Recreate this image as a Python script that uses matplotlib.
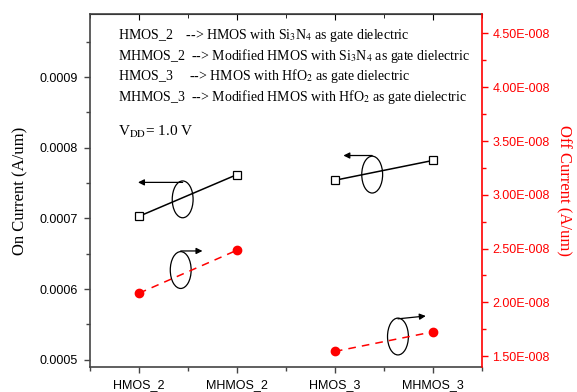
import matplotlib
matplotlib.use('Agg')
import matplotlib.pyplot as plt
from matplotlib.patches import Ellipse
from matplotlib.ticker import MultipleLocator, FuncFormatter

plt.rcParams['font.family'] = 'Liberation Serif'
plt.rcParams['mathtext.fontset'] = 'stix'

devices = ['HMOS_2', 'MHMOS_2', 'HMOS_3', 'MHMOS_3']
x_pos = [1, 2, 3, 4]
on_current = [0.000703, 0.000762, 0.000754, 0.000782]
off_current = [2.085e-8, 2.485e-8, 1.544e-8, 1.726e-8]

notes = [
    r'HMOS_2    --> HMOS with Si$_3$N$_4$ as gate dielectric',
    r'MHMOS_2  --> Modified HMOS with Si$_3$N$_4$ as gate dielectric',
    r'HMOS_3     --> HMOS with HfO$_2$ as gate dielectric',
    r'MHMOS_3  --> Modified HMOS with HfO$_2$ as gate dielectric',
]

fig = plt.figure(figsize=(5.77, 3.92), dpi=100)
ax = fig.add_axes([0.156, 0.064, 0.679, 0.900])
ax2 = ax.twinx()

# on current, one segment per gate dielectric
for i in (0, 2):
    ax.plot(x_pos[i:i + 2], on_current[i:i + 2], color='black', lw=1.1,
            marker='s', ms=5.5, mfc='white', mec='black', mew=0.9, zorder=3)
    ax2.plot(x_pos[i:i + 2], off_current[i:i + 2], color='red', lw=1.1, ls=(0, (5, 4)),
             marker='o', ms=6, mfc='red', mec='red', zorder=3)

ax.set_xlim(0.5, 4.5)
ax.set_ylim(0.00049, 0.000989)
ax2.set_ylim(1.40e-8, 4.68e-8)

ax.set_xticks(x_pos)
ax.set_xticklabels(devices, family='Liberation Sans', fontsize=9)
ax.xaxis.set_minor_locator(MultipleLocator(0.5))
ax.yaxis.set_major_locator(MultipleLocator(0.0001))
ax.yaxis.set_minor_locator(MultipleLocator(0.00005))
ax.yaxis.set_major_formatter(FuncFormatter(lambda v, p: f'{v:.4f}'))
for lab in ax.get_yticklabels():
    lab.set_family('Liberation Sans')
    lab.set_fontsize(9)
ax.tick_params(axis='both', which='major', length=4, width=1, direction='out', color='#444', pad=5)
ax.tick_params(axis='both', which='minor', length=3, width=1, direction='out', color='#444')

top = ax.secondary_xaxis('top')
top.set_xticks(x_pos)
top.set_xticklabels([])
top.xaxis.set_minor_locator(MultipleLocator(0.5))
top.tick_params(which='major', direction='in', length=4)
top.tick_params(which='minor', direction='in', length=3)

ax2.yaxis.set_major_locator(MultipleLocator(0.5e-8))
ax2.yaxis.set_minor_locator(MultipleLocator(0.25e-8))
ax2.yaxis.set_major_formatter(FuncFormatter(lambda v, p: f'{v / 1e-8:.2f}E-008'))
ax2.tick_params(axis='y', which='major', length=4, width=1, colors='red', labelsize=9)
ax2.tick_params(axis='y', which='minor', length=3, width=1, colors='red')
for lab in ax2.get_yticklabels():
    lab.set_family('Liberation Sans')

for s in ('left', 'bottom', 'top'):
    ax.spines[s].set_color('#444')
    ax.spines[s].set_linewidth(1.2)
ax2.spines['right'].set_color('red')
ax2.spines['right'].set_linewidth(1.2)
ax2.spines['left'].set_visible(False)
ax2.spines['top'].set_visible(False)
ax2.spines['bottom'].set_visible(False)
ax.spines['right'].set_visible(False)

ax.set_ylabel('On Current (A/um)', fontsize=12, labelpad=8)
ax2.set_ylabel('Off Current (A/um)', fontsize=12, color='red', rotation=270, labelpad=16)

for k, line in enumerate(notes):
    fig.text(118 / 577, 1 - (35 + 20.7 * k) / 392, line, fontsize=10, va='center', ha='left')
fig.text(118 / 577, 1 - 132 / 392, r'V$_{\rm DD}$= 1.0 V', fontsize=11, va='center', ha='left')

# ellipse markers with arrows pointing at the matching axis
ell = [(1.446, 0.000727), (1.426, 0.000627), (3.381, 0.000762), (3.644, 0.000533)]
arrows = [((1.446, 0.000751), (0.99, 0.000751)),
          ((1.426, 0.000654), (1.648, 0.000654)),
          ((3.381, 0.000789), (3.087, 0.000789)),
          ((3.644, 0.000558), (3.928, 0.000562))]
for (cx, cy), (tail, head) in zip(ell, arrows):
    ax.add_patch(Ellipse((cx, cy), 0.213, 0.0000521, fill=False, ec='black', lw=0.9, zorder=4))
    ax.annotate('', xy=head, xytext=tail,
                arrowprops=dict(arrowstyle='-|>', color='black', lw=0.9, mutation_scale=9,
                                shrinkA=0, shrinkB=0))

fig.savefig('out.png', dpi=100)
